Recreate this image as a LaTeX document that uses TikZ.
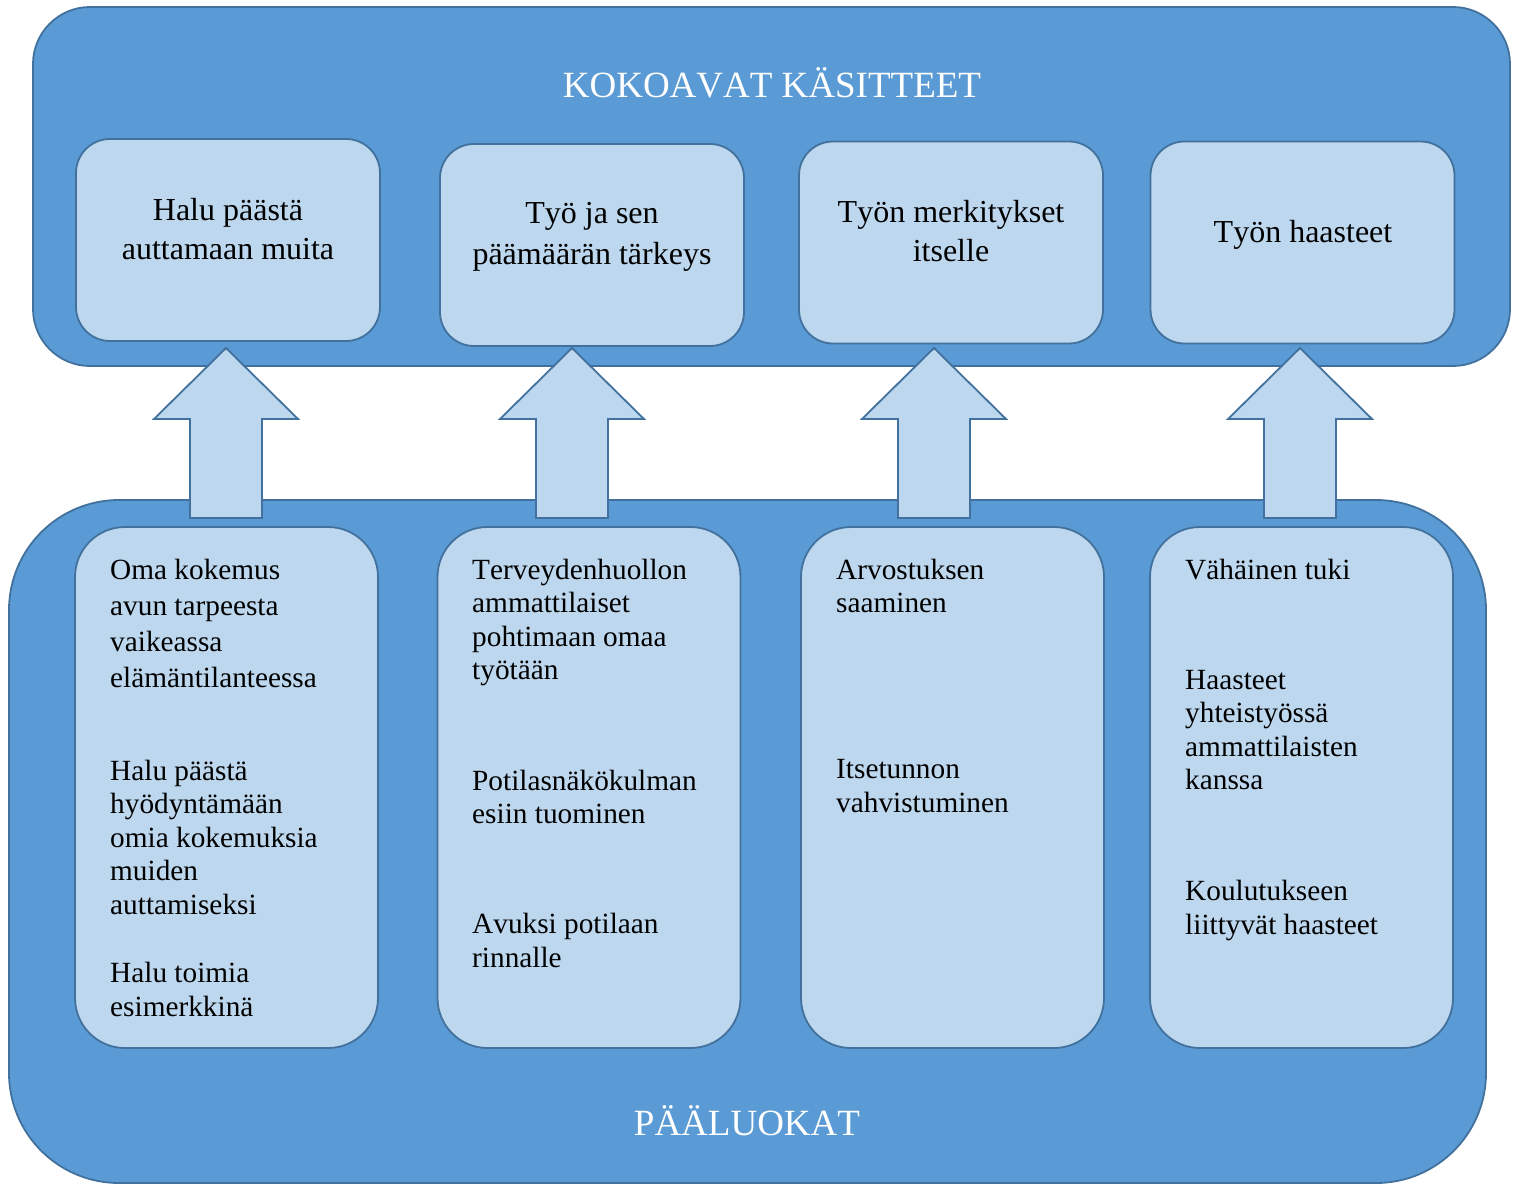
\documentclass[tikz,border=0pt]{standalone}
\usepackage{fontspec}
\setmainfont{Liberation Serif}[Kerning=Off]
\definecolor{darkblue}{HTML}{5B9BD5}
\definecolor{lightblue}{HTML}{BDD7EE}
\definecolor{bordercol}{HTML}{41719C}
\tikzset{
  bigbox/.style={draw=bordercol, fill=darkblue, line width=1.8pt, rounded corners=#1, inner sep=0pt, minimum width=1477pt},
  topbox/.style={draw=bordercol, fill=lightblue, line width=1.8pt, rounded corners=34pt, inner sep=0pt, minimum width=304pt, minimum height=202pt},
  botbox/.style={draw=bordercol, fill=lightblue, line width=1.8pt, rounded corners=50pt, inner sep=0pt, minimum width=303pt, minimum height=521pt},
  blockarrow/.style={draw=bordercol, fill=lightblue, line width=1.8pt, line join=miter},
  titletext/.style={text=white, inner sep=0pt, anchor=base, font=\fontsize{37}{44}\selectfont},
  toptext/.style={inner sep=0pt, anchor=base, font=\fontsize{32}{#1}\selectfont},
  bottext/.style={inner sep=0pt, anchor=base west, font=\fontsize{29.3}{#1}\selectfont},
}
\newcommand{\ctext}[1]{\parbox[t]{300pt}{\centering #1}}
\newcommand{\ltext}[1]{\parbox[t]{300pt}{\raggedright #1}}
\begin{document}
\begin{tikzpicture}[x=1pt,y=-1pt]
\useasboundingbox (0,0) rectangle (1520,1184);
% big containers
\node[bigbox=110pt, minimum height=683pt] (P) at (747.5,841.5) {};
\node[bigbox=57pt, minimum height=359pt] (K) at (771.5,186.5) {};
\node[titletext] (Ktitle) at (772,97) {KOKOAVAT KÄSITTEET};
\node[titletext] (Ptitle) at (747,1135) {PÄÄLUOKAT};
% block arrows
\coordinate (a1) at (226,348);
\coordinate (a2) at (572,348);
\coordinate (a3) at (934,348);
\coordinate (a4) at (1300,348);
\foreach \a in {a1,a2,a3,a4}{
  \draw[blockarrow] (\a) -- ++(72,71) -- ++(-36,0) -- ++(0,99) -- ++(-72,0) -- ++(0,-99) -- ++(-36,0) -- cycle;
}
% top boxes
\node[topbox] (t1) at (228,240) {};
\node[topbox] (t2) at (592,245) {};
\node[topbox] (t3) at (951,242.5) {};
\node[topbox] (t4) at (1302.5,242.5) {};
\node[toptext=39] (t1x) at (228,220) {\ctext{Halu päästä\\auttamaan muita}};
\node[toptext=41] (t2x) at (592,223) {\ctext{Työ ja sen\\päämäärän tärkeys}};
\node[toptext=39] (t3x) at (951,222) {\ctext{Työn merkitykset\\itselle}};
\node[toptext=39] (t4x) at (1303,242) {\ctext{Työn haasteet}};
% bottom boxes
\node[botbox] (b1) at (226.5,787.5) {};
\node[botbox] (b2) at (589,787.5) {};
\node[botbox] (b3) at (952.5,787.5) {};
\node[botbox] (b4) at (1301.5,787.5) {};
% box 1 texts
\node[bottext=36] (b1p1) at (110,579) {\ltext{Oma kokemus\\avun tarpeesta\\vaikeassa\\elämäntilanteessa}};
\node[bottext=33.5] (b1p2) at (110,780) {\ltext{Halu päästä\\hyödyntämään\\omia kokemuksia\\muiden\\auttamiseksi}};
\node[bottext=34] (b1p3) at (110,982) {\ltext{Halu toimia\\esimerkkinä}};
% box 2 texts
\node[bottext=33.5] (b2p1) at (472,579) {\ltext{Terveydenhuollon\\ammattilaiset\\pohtimaan omaa\\työtään}};
\node[bottext=33.5] (b2p2) at (472,790) {\ltext{Potilasnäkökulman\\esiin tuominen}};
\node[bottext=34] (b2p3) at (472,933) {\ltext{Avuksi potilaan\\rinnalle}};
% box 3 texts
\node[bottext=33.5] (b3p1) at (836,579) {\ltext{Arvostuksen\\saaminen}};
\node[bottext=34] (b3p2) at (836,778) {\ltext{Itsetunnon\\vahvistuminen}};
% box 4 texts
\node[bottext=34] (b4p1) at (1185,579) {\ltext{Vähäinen tuki}};
\node[bottext=33.5] (b4p2) at (1185,689) {\ltext{Haasteet\\yhteistyössä\\ammattilaisten\\kanssa}};
\node[bottext=34] (b4p3) at (1185,900) {\ltext{Koulutukseen\\liittyvät haasteet}};
\end{tikzpicture}
\end{document}
